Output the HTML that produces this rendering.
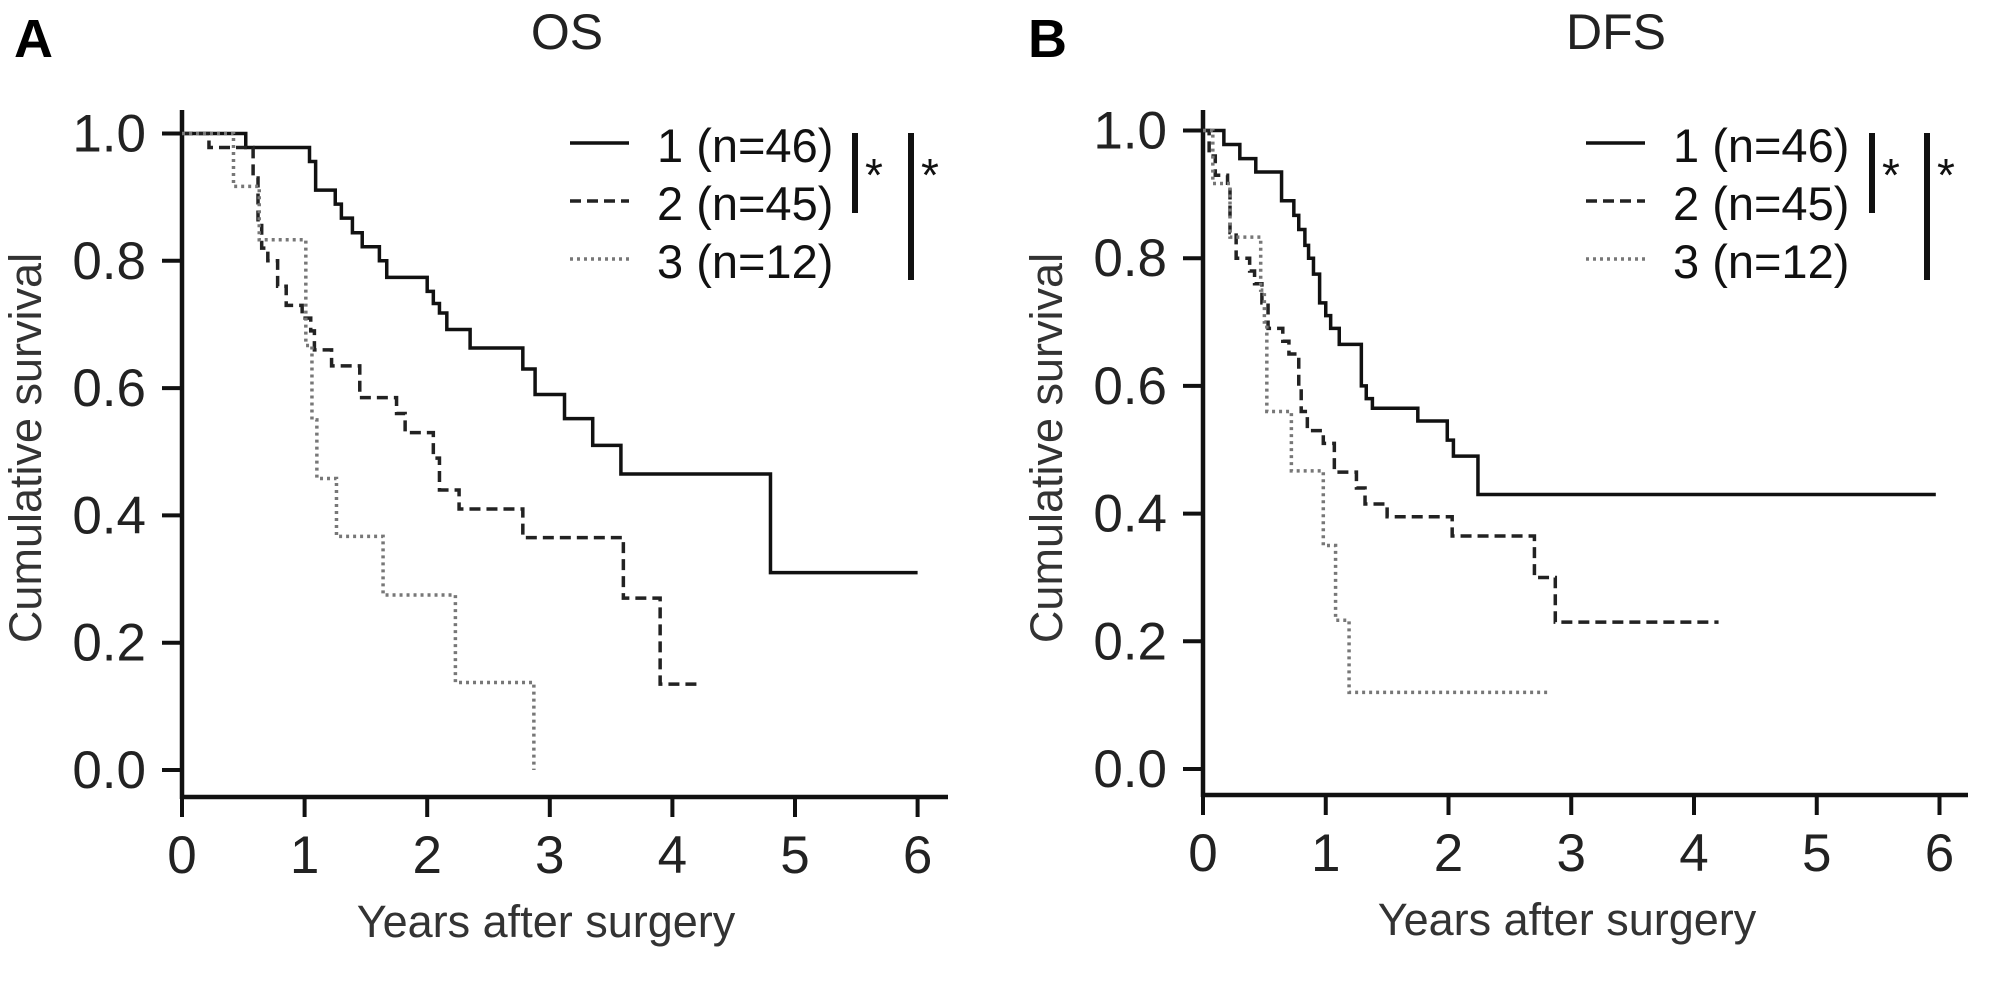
<!DOCTYPE html>
<html><head><meta charset="utf-8"><style>
html,body{margin:0;padding:0;background:#fff;}
svg{display:block;font-family:"Liberation Sans",sans-serif;}
</style></head><body>
<svg id="fig" width="2008" height="983" viewBox="0 0 2008 983" xmlns="http://www.w3.org/2000/svg"></svg>
<script>
const xTicks = [0,1,2,3,4,5,6];
const yTicks = [0.0,0.2,0.4,0.6,0.8,1.0];
const yTickLabels = ["0.0","0.2","0.4","0.6","0.8","1.0"];
const legendLabels = ["1 (n=46)","2 (n=45)","3 (n=12)"];

const osG1T = [0,0.52,1.04,1.09,1.25,1.3,1.39,1.47,1.61,1.67,2.0,2.05,2.1,2.16,2.35,2.78,2.88,3.12,3.35,3.58,4.8];
const osG1S = [1,0.978,0.956,0.911,0.889,0.867,0.844,0.822,0.8,0.774,0.752,0.733,0.718,0.692,0.663,0.63,0.59,0.552,0.51,0.465,0.31];
const osG1End = 6.0;
const osG2T = [0,0.22,0.58,0.62,0.65,0.7,0.78,0.85,0.98,1.05,1.08,1.22,1.45,1.75,1.82,2.05,2.1,2.26,2.78,3.6,3.9];
const osG2S = [1,0.978,0.93,0.86,0.82,0.8,0.76,0.73,0.71,0.69,0.66,0.635,0.585,0.56,0.53,0.49,0.44,0.41,0.365,0.27,0.135];
const osG2End = 4.21;
const osG3T = [0,0.42,0.63,1.01,1.06,1.1,1.26,1.64,2.23,2.87];
const osG3S = [1,0.917,0.833,0.667,0.55,0.458,0.367,0.275,0.1375,0];
const osG3End = 2.87;

const dfsG1T = [0,0.17,0.3,0.43,0.64,0.74,0.78,0.83,0.86,0.9,0.95,1.0,1.04,1.11,1.29,1.33,1.38,1.75,1.99,2.04,2.24];
const dfsG1S = [1,0.978,0.956,0.935,0.89,0.867,0.845,0.82,0.8,0.775,0.73,0.71,0.69,0.665,0.6,0.58,0.565,0.545,0.515,0.49,0.43];
const dfsG1End = 5.97;
const dfsG2T = [0,0.05,0.1,0.2,0.22,0.27,0.38,0.42,0.48,0.53,0.65,0.7,0.78,0.8,0.85,0.98,1.07,1.25,1.32,1.5,2.03,2.7,2.87];
const dfsG2S = [1,0.96,0.93,0.91,0.84,0.8,0.78,0.76,0.73,0.69,0.67,0.65,0.6,0.56,0.53,0.51,0.465,0.44,0.415,0.395,0.365,0.30,0.23];
const dfsG2End = 4.2;
const dfsG3T = [0,0.08,0.22,0.47,0.5,0.52,0.72,0.98,1.08,1.19];
const dfsG3S = [1,0.917,0.833,0.75,0.7,0.56,0.467,0.35,0.233,0.12];
const dfsG3End = 2.82;

const NS = "http://www.w3.org/2000/svg";
const svg = document.getElementById("fig");
function mk(tag, attrs, parent){const e=document.createElementNS(NS,tag);for(const k in attrs)e.setAttribute(k,attrs[k]);(parent||svg).appendChild(e);return e;}

const styles = [
  {stroke:"#111", dash:"", w:3.5},
  {stroke:"#222", dash:"11 6", w:3.5},
  {stroke:"#777", dash:"3 4", w:3.5}
];

function panel(P, letter, title, series){
  const g = mk("g",{});
  
  
  const sx = v => P.x0 + v*P.xPer;
  const sy = v => P.y0 - v*(P.y0-P.y1);
  const L = mk("text",{x:P.letterX,y:57,"font-size":54,"font-weight":"bold",fill:"#000"},g); L.textContent=letter;
  
  
  const T = mk("text",{x:P.titleX,y:49,"font-size":50,"text-anchor":"middle",fill:"#222"},g); T.textContent=title;
  
  
  const ya = mk("line",{x1:P.x0,y1:110,x2:P.x0,y2:P.base+2,stroke:"#111","stroke-width":4.5},g);
  
  
  const xa = mk("line",{x1:P.x0-2,y1:P.base,x2:P.axEnd,y2:P.base,stroke:"#111","stroke-width":4.5},g);
  
  
  yTicks.forEach((v,i)=>{
    const t = mk("line",{x1:P.x0-20,y1:sy(v),x2:P.x0,y2:sy(v),stroke:"#111","stroke-width":4},g);
    
    
    const tl = mk("text",{x:P.x0-36,y:sy(v)+18,"font-size":53,"text-anchor":"end",fill:"#222"},g); tl.textContent=yTickLabels[i];
    
    
  });
  xTicks.forEach(v=>{
    const t = mk("line",{x1:sx(v),y1:P.base,x2:sx(v),y2:P.base+20,stroke:"#111","stroke-width":4},g);
    
    
    const tl = mk("text",{x:sx(v),y:P.base+76,"font-size":53,"text-anchor":"middle",fill:"#222"},g); tl.textContent=String(v);
    
    
  });
  const xt = mk("text",{x:P.x0+364,y:P.base+140,"font-size":45,"text-anchor":"middle",fill:"#333"},g); xt.textContent="Years after surgery";
  
  
  const yt = mk("text",{x:0,y:0,"font-size":45,"text-anchor":"middle",fill:"#333",transform:`translate(${P.x0-141},448) rotate(-90)`},g); yt.textContent="Cumulative survival";
  
  
  series.forEach((s,i)=>{
    let d = `M${sx(s.t[0])},${sy(s.s[0])}`;
    for(let k=1;k<s.t.length;k++){ d += ` H${sx(s.t[k])} V${sy(s.s[k])}`; }
    d += ` H${sx(s.end)}`;
    const p = mk("path",{d:d,fill:"none",stroke:styles[i].stroke,"stroke-width":styles[i].w,"stroke-dasharray":styles[i].dash},g);
    
    
    const ly = 143 + i*58;
    const ll = mk("line",{x1:P.legX,y1:ly,x2:P.legX+59,y2:ly,stroke:styles[i].stroke,"stroke-width":styles[i].w,"stroke-dasharray":styles[i].dash},g);
    
    
    const lt = mk("text",{x:P.legX+87,y:ly+19,"font-size":47,fill:"#111"},g); lt.textContent=legendLabels[i];
    
    
  });
  const b1 = mk("line",{x1:P.bar1,y1:133,x2:P.bar1,y2:213,stroke:"#111","stroke-width":6},g);
  
  
  const a1 = mk("text",{x:P.bar1+10,y:191,"font-size":46,fill:"#111"},g); a1.textContent="*";
  
  
  const b2 = mk("line",{x1:P.bar2,y1:133,x2:P.bar2,y2:280,stroke:"#111","stroke-width":6},g);
  
  
  const a2 = mk("text",{x:P.bar2+10,y:191,"font-size":46,fill:"#111"},g); a2.textContent="*";
  
  
}

panel({x0:182,xPer:122.6,y1:133.5,y0:770,base:797,axEnd:948,letterX:14,titleX:567,legX:570,bar1:855,bar2:911},
  "A","OS",[{t:osG1T,s:osG1S,end:osG1End},{t:osG2T,s:osG2S,end:osG2End},{t:osG3T,s:osG3S,end:osG3End}]);
panel({x0:1203,xPer:122.75,y1:130.5,y0:769,base:795,axEnd:1968,letterX:1028,titleX:1616,legX:1586,bar1:1872,bar2:1927},
  "B","DFS",[{t:dfsG1T,s:dfsG1S,end:dfsG1End},{t:dfsG2T,s:dfsG2S,end:dfsG2End},{t:dfsG3T,s:dfsG3S,end:dfsG3End}]);
</script>
</body></html>
